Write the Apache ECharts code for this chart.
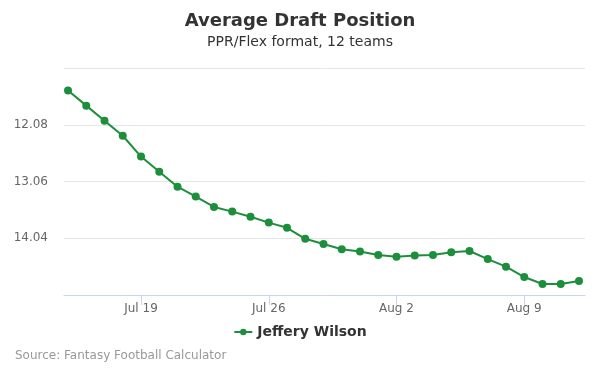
<!DOCTYPE html>
<html>
<head>
<meta charset="utf-8">
<script src="https://cdn.jsdelivr.net/npm/echarts@6/dist/echarts.min.js"></script>
<style>
  html, body { margin: 0; padding: 0; background: #fff; }
  #chart { width: 600px; height: 375px; }
</style>
</head>
<body>
<div id="chart"></div>
<script>
const dates = ['Jul 15', 'Jul 16', 'Jul 17', 'Jul 18', 'Jul 19', 'Jul 20', 'Jul 21', 'Jul 22',
  'Jul 23', 'Jul 24', 'Jul 25', 'Jul 26', 'Jul 27', 'Jul 28', 'Jul 29', 'Jul 30', 'Jul 31',
  'Aug 1', 'Aug 2', 'Aug 3', 'Aug 4', 'Aug 5', 'Aug 6', 'Aug 7', 'Aug 8', 'Aug 9', 'Aug 10',
  'Aug 11', 'Aug 12']
const adp = [11.49, 11.75, 12.01, 12.27, 12.63, 12.89, 13.15, 13.32, 13.50, 13.58, 13.67,
  13.77, 13.86, 14.05, 14.14, 14.23, 14.27, 14.33, 14.36, 14.34, 14.33, 14.28, 14.26,
  14.40, 14.53, 14.71, 14.83, 14.83, 14.78]
const xTickDays = [4, 11, 18, 25]
const yTicks = [11.10, 12.08, 13.06, 14.04, 15.02]
const playerName = 'Jeffery Wilson'

const green = '#1d8f3c'
const chart = echarts.init(document.getElementById('chart'))

const option = {
  backgroundColor: '#fff',
  textStyle: { fontFamily: 'DejaVu Sans' },
  title: {
    text: 'Average Draft Position',
    subtext: 'PPR/Flex format, 12 teams',
    left: 'center',
    top: 7,
    itemGap: 5,
    textStyle: { fontSize: 18, fontWeight: 'bold', color: '#333' },
    subtextStyle: { fontSize: 14, color: '#333' }
  },
  legend: {
    data: [playerName],
    bottom: 31,
    left: 'center',
    itemWidth: 18,
    itemHeight: 8,
    itemGap: 6,
    textStyle: { fontSize: 14, fontWeight: 'bold', color: '#333' }
  },
  grid: { left: 64, right: 15, top: 68, bottom: 80 },
  xAxis: {
    type: 'value',
    min: -0.22,
    max: 28.33,
    splitLine: { show: false },
    axisLine: { lineStyle: { color: '#ccd6eb' } },
    axisTick: {
      customValues: xTickDays,
      length: 10,
      lineStyle: { color: '#ccd6eb' }
    },
    axisLabel: {
      customValues: xTickDays,
      color: '#666',
      fontSize: 12,
      margin: 8,
      formatter: v => dates[Math.round(v)]
    }
  },
  yAxis: {
    type: 'value',
    inverse: true,
    min: yTicks[0],
    max: yTicks[yTicks.length - 1],
    interval: 0.98,
    axisLine: { show: false },
    axisTick: { show: false },
    splitLine: { lineStyle: { color: '#e6e6e6' } },
    axisLabel: {
      color: '#666',
      fontSize: 12,
      margin: 16,
      showMinLabel: false,
      showMaxLabel: false,
      formatter: v => v.toFixed(2)
    }
  },
  series: [{
    name: playerName,
    type: 'line',
    data: adp.map((v, i) => [i, v]),
    symbol: 'circle',
    symbolSize: 8,
    lineStyle: { color: green, width: 2 },
    itemStyle: { color: green },
    emphasis: { disabled: true }
  }],
  graphic: [{
    type: 'text',
    left: 15,
    top: 350,
    style: {
      text: 'Source: Fantasy Football Calculator',
      fill: '#999',
      fontSize: 12,
      fontFamily: 'DejaVu Sans'
    }
  }]
}

chart.setOption(option)
</script>
</body>
</html>
